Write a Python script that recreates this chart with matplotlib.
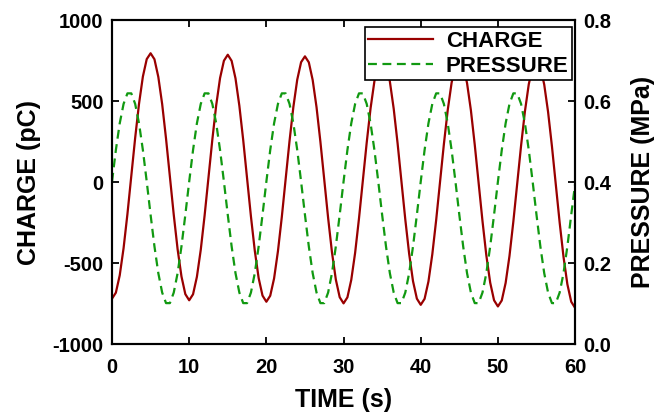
import numpy as np
import matplotlib.pyplot as plt

plt.rcParams['font.family'] = ['Liberation Sans', 'DejaVu Sans']
plt.rcParams['font.weight'] = 'bold'
plt.rcParams['axes.unicode_minus'] = False

# time axis, sampled every 0.5 s
time = np.arange(0, 60.5, 0.5)

# charge (pC)
charge = [
    -720, -683, -576, -408, -197, 38, 272, 483, 651, 759,
    795, 758, 649, 481, 268, 33, -202, -415, -583, -692,
    -730, -693, -585, -418, -206, 28, 262, 474, 642, 749,
    786, 748, 640, 471, 259, 23, -212, -424, -593, -701,
    -739, -702, -595, -427, -216, 19, 253, 464, 632, 740,
    776, 739, 630, 462, 249, 14, -221, -434, -602, -711,
    -749, -712, -604, -437, -225, 9, 243, 455, 623, 730,
    767, 729, 621, 452, 240, 4, -231, -443, -612, -720,
    -758, -721, -614, -446, -235, 0, 234, 445, 613, 721,
    757, 720, 611, 443, 230, -5, -240, -453, -621, -730,
    -768, -731, -623, -456, -244, -10, 224, 436, 604, 711,
    748, 710, 602, 433, 221, -15, -250, -462, -631, -739,
    -777,
]

# pressure (MPa)
pressure = [
    0.401, 0.479, 0.545, 0.593, 0.619, 0.619, 0.593, 0.545, 0.479, 0.401,
    0.319, 0.241, 0.175, 0.127, 0.101, 0.101, 0.127, 0.175, 0.241, 0.319,
    0.401, 0.479, 0.545, 0.593, 0.619, 0.619, 0.593, 0.545, 0.479, 0.401,
    0.319, 0.241, 0.175, 0.127, 0.101, 0.101, 0.127, 0.175, 0.241, 0.319,
    0.401, 0.479, 0.545, 0.593, 0.619, 0.619, 0.593, 0.545, 0.479, 0.401,
    0.319, 0.241, 0.175, 0.127, 0.101, 0.101, 0.127, 0.175, 0.241, 0.319,
    0.401, 0.479, 0.545, 0.593, 0.619, 0.619, 0.593, 0.545, 0.479, 0.401,
    0.319, 0.241, 0.175, 0.127, 0.101, 0.101, 0.127, 0.175, 0.241, 0.319,
    0.401, 0.479, 0.545, 0.593, 0.619, 0.619, 0.593, 0.545, 0.479, 0.401,
    0.319, 0.241, 0.175, 0.127, 0.101, 0.101, 0.127, 0.175, 0.241, 0.319,
    0.401, 0.479, 0.545, 0.593, 0.619, 0.619, 0.593, 0.545, 0.479, 0.401,
    0.319, 0.241, 0.175, 0.127, 0.101, 0.101, 0.127, 0.175, 0.241, 0.319,
    0.395,
]

fig = plt.figure(figsize=(6.55, 4.18), dpi=100)
ax = fig.add_axes([0.171, 0.177, 0.707, 0.775])
ax2 = ax.twinx()

l1, = ax.plot(time, charge, color='#990000', lw=1.6, label='CHARGE')
l2, = ax2.plot(time, pressure, color='#119911', lw=1.6, ls=(0, (4, 2.5)), label='PRESSURE')

ax.set_xlim(0, 60)
ax.set_ylim(-1000, 1000)
ax2.set_ylim(0, 0.8)
ax.set_xticks(range(0, 61, 10))
ax.set_yticks(range(-1000, 1001, 500))
ax2.set_yticks([0.0, 0.2, 0.4, 0.6, 0.8])
ax2.set_yticklabels(['0.0', '0.2', '0.4', '0.6', '0.8'])

ax.tick_params(axis='x', direction='in', top=True, length=5, width=1.3, labelsize=14.5, pad=10)
ax.tick_params(axis='y', direction='in', length=5, width=1.3, labelsize=14.5, pad=6)
ax2.tick_params(axis='y', direction='in', length=5, width=1.3, labelsize=14.5, pad=6)
for a in (ax, ax2):
    for s in a.spines.values():
        s.set_linewidth(1.5)

ax.set_xlabel('TIME (s)', fontsize=18, fontweight='bold', labelpad=8)
ax.set_ylabel('CHARGE (pC)', fontsize=18, fontweight='bold', labelpad=8)
ax2.set_ylabel('PRESSURE (MPa)', fontsize=18, fontweight='bold', labelpad=14)

leg = ax2.legend([l1, l2], ['CHARGE', 'PRESSURE'], loc='upper right',
                 bbox_to_anchor=(0.9935, 0.978), fontsize=16,
                 frameon=True, fancybox=False, edgecolor='black', framealpha=1,
                 handlelength=2.9, handletextpad=0.6, borderaxespad=0,
                 borderpad=0.15, labelspacing=0.2)
leg.get_frame().set_linewidth(1.2)

fig.savefig('out.png', dpi=100)
